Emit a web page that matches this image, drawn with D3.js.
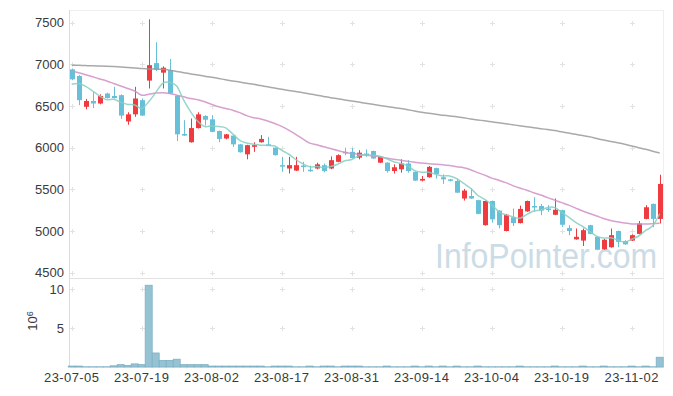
<!DOCTYPE html>
<html>
<head>
<meta charset="utf-8">
<script src="https://cdn.jsdelivr.net/npm/d3@7"></script>
<style>
body { margin: 0; background: #fff; }
text { font-family: "Liberation Sans", Arial, sans-serif; }
</style>
</head>
<body>
<svg id="chart" width="673" height="396"></svg>
<script>
// trading days (yy-mm-dd)
var dates = [
  "23-07-05","23-07-06","23-07-07","23-07-10","23-07-11","23-07-12","23-07-13","23-07-14","23-07-17","23-07-18",
  "23-07-19","23-07-20","23-07-21","23-07-24","23-07-25","23-07-26","23-07-27","23-07-28","23-07-31","23-08-01",
  "23-08-02","23-08-03","23-08-04","23-08-07","23-08-08","23-08-09","23-08-10","23-08-11","23-08-14","23-08-16",
  "23-08-17","23-08-18","23-08-21","23-08-22","23-08-23","23-08-24","23-08-25","23-08-28","23-08-29","23-08-30",
  "23-08-31","23-09-01","23-09-04","23-09-05","23-09-06","23-09-07","23-09-08","23-09-11","23-09-12","23-09-13",
  "23-09-14","23-09-15","23-09-18","23-09-19","23-09-20","23-09-21","23-09-22","23-09-25","23-09-26","23-09-27",
  "23-10-04","23-10-05","23-10-06","23-10-10","23-10-11","23-10-12","23-10-13","23-10-16","23-10-17","23-10-18",
  "23-10-19","23-10-20","23-10-23","23-10-24","23-10-25","23-10-26","23-10-27","23-10-30","23-10-31","23-11-01",
  "23-11-02","23-11-03","23-11-06","23-11-07","23-11-08"
];

var openP = [6940,6860,6490,6560,6530,6650,6620,6630,6315,6400, 6570,6805,7015,6900,6930,6625,6165,6065,6235,6380,
  6340,6200,6110,6145,6040,5920,6010,6065,6040,6000, 5790,5750,5725,5785,5735,5750,5790,5750,5830,5950,
  5950,5880,5930,5960,5820,5820,5720,5740,5810,5710, 5605,5645,5755,5645,5620,5600,5390,5420,5370,5070,
  5360,5245,5000,5165,5095,5235,5300,5300,5270,5195, 5250,5035,4900,4885,5070,4930,4780,4805,5000,4880,
  4885,4965,5145,5325,5145];
var highP = [6950,6870,6585,6670,6640,6660,6730,6640,6425,6730, 6590,7540,7265,6975,7065,6630,6330,6350,6425,6390,
  6390,6205,6165,6150,6045,6035,6065,6150,6130,6005, 5890,5890,5890,5830,5785,5820,5810,5895,5920,6000,
  5995,5970,5980,5965,5900,5825,5800,5860,5850,5715, 5660,5780,5760,5680,5625,5630,5505,5510,5375,5365,
  5365,5250,5205,5270,5305,5365,5405,5325,5310,5390, 5255,5070,5030,5030,5075,4935,4905,5030,5005,4890,
  4960,5120,5310,5330,5675];
var lowP = [6810,6510,6460,6475,6520,6590,6590,6345,6275,6370, 6380,6710,6920,6710,6645,6080,6140,6060,6230,6265,
  6185,6065,6100,6010,5940,5860,5950,6060,6020,5905, 5710,5690,5720,5710,5710,5740,5705,5740,5825,5910,
  5870,5860,5890,5865,5815,5700,5690,5700,5700,5600, 5595,5640,5630,5565,5595,5455,5365,5385,5200,5065,
  5100,5030,4995,5060,5090,5230,5230,5190,5230,5190, 5050,4950,4895,4820,4960,4770,4775,4800,4805,4835,
  4880,4960,5140,5045,5090];
var closeP = [6820,6570,6560,6530,6620,6595,6595,6385,6400,6590, 6385,6990,6935,6960,6650,6160,6145,6235,6400,6335,
  6190,6105,6160,6040,5945,6030,6030,6105,6025,5910, 5775,5790,5790,5770,5725,5800,5720,5850,5910,5935,
  5875,5940,5915,5870,5890,5720,5765,5810,5720,5605, 5625,5770,5685,5620,5605,5460,5485,5390,5205,5360,
  5140,5070,5195,5095,5265,5360,5290,5245,5255,5255, 5075,5000,4930,5010,4965,4775,4895,4950,4870,4840,
  4950,5090,5285,5145,5565];

// volume, millions of shares
var volume = [0.12,0.12,0.03,0.03,0.03,0.03,0.15,0.3,0.2,0.4, 0.3,10.5,1.8,0.85,0.85,1.0,0.3,0.3,0.3,0.3,
  0.12,0.12,0.12,0.12,0.12,0.12,0.12,0.12,0.03,0.12, 0.12,0.12,0.03,0.03,0.12,0.03,0.12,0.12,0.03,0.12,
  0.12,0.12,0.03,0.03,0.03,0.12,0.03,0.03,0.03,0.12, 0.03,0.12,0.03,0.12,0.03,0.12,0.03,0.03,0.12,0.03,
  0.03,0.03,0.03,0.03,0.12,0.03,0.03,0.03,0.03,0.12, 0.03,0.03,0.03,0.12,0.03,0.03,0.12,0.03,0.03,0.03,
  0.12,0.03,0.12,0.03,1.25];

// moving averages
var ma5 = [6760,6770,6735,6680,6620,6575,6580,6545,6519,6513, 6471,6550,6660,6772,6784,6739,6570,6430,6318,6255,
  6261,6253,6238,6166,6088,6056,6041,6030,6027,6020, 5969,5921,5858,5807,5770,5775,5761,5773,5801,5843,
  5858,5902,5915,5907,5898,5867,5832,5811,5781,5724, 5705,5706,5681,5661,5661,5628,5571,5512,5429,5380,
  5316,5233,5194,5172,5153,5197,5241,5251,5283,5281, 5224,5166,5103,5054,4996,4936,4915,4919,4891,4866,
  4901,4940,5007,5062,5207];
var ma20 = [6920,6900,6875,6850,6825,6800,6770,6740,6710,6680, 6630,6640,6655,6660,6650,6630,6610,6590,6575,6550,
  6520,6490,6470,6450,6420,6385,6360,6345,6320,6290, 6255,6210,6160,6105,6055,6035,6010,5990,5965,5945,
  5930,5920,5910,5900,5890,5875,5860,5850,5838,5825, 5815,5808,5802,5795,5785,5772,5760,5735,5700,5670,
  5635,5610,5580,5545,5515,5490,5460,5432,5400,5370, 5340,5310,5275,5240,5210,5180,5150,5125,5110,5095,
  5085,5085,5085,5088,5092];
var ma120 = [6990,6988,6985,6983,6980,6977,6973,6968,6963,6957, 6950,6945,6943,6940,6930,6915,6900,6885,6872,6858,
  6845,6830,6815,6800,6787,6773,6760,6745,6730,6715, 6700,6687,6673,6660,6645,6630,6615,6600,6587,6573,
  6560,6547,6533,6520,6507,6495,6482,6470,6455,6440, 6425,6412,6400,6390,6380,6370,6358,6345,6333,6322,
  6310,6298,6287,6275,6263,6252,6240,6228,6217,6205, 6190,6175,6160,6145,6130,6110,6092,6075,6058,6040,
  6020,6000,5980,5958,5935];

var priceTicks = [4500,5000,5500,6000,6500,7000,7500];
var volTicks = [5,10];
var xTickDates = ["23-07-05","23-07-19","23-08-02","23-08-17","23-08-31","23-09-14","23-10-04","23-10-19","23-11-02"];

var upColor = "#ef3a3f", downColor = "#68c0d8";
var plotLeft = 68.2, plotRight = 663.2;
var priceTop = 10, priceBottom = 278, volTop = 279, volBottom = 367;

var svg = d3.select("#chart");

var x = d3.scaleBand().domain(dates).range([plotLeft, plotRight]).padding(0);
var cx = function (i) { return x(dates[i]) + x.bandwidth() / 2; };
var y = d3.scaleLinear().domain([4436, 7652]).range([priceBottom, priceTop]);
var yv = d3.scaleLinear().domain([0, 11.3]).range([volBottom, volTop]);

// frame
svg.append("rect")
    .attr("x", 69.5).attr("y", priceTop + 0.5)
    .attr("width", 663.5 - 69.5).attr("height", volBottom - priceTop)
    .attr("fill", "none").attr("stroke", "#efefef");
svg.append("line")
    .attr("x1", 69.5).attr("x2", 663.5).attr("y1", volTop - 0.5).attr("y2", volTop - 0.5)
    .attr("stroke", "#e2e2e2");
svg.append("line")
    .attr("x1", 69.5).attr("x2", 69.5).attr("y1", priceTop).attr("y2", volBottom)
    .attr("stroke", "#dcdcdc");

// grid crosses
var crossX = xTickDates.map(function (d) { return x(d) + x.bandwidth() / 2; });
var crossPts = [];
crossX.forEach(function (px) {
    priceTicks.forEach(function (t) { crossPts.push([px, y(t)]); });
    volTicks.forEach(function (t) { crossPts.push([px, yv(t)]); });
});
var crosses = svg.append("g").attr("stroke", "#e2e2e2").attr("stroke-width", 1);
crossPts.forEach(function (p) {
    var px = Math.round(p[0]) + 0.5, py = Math.round(p[1]) + 0.5;
    crosses.append("line").attr("x1", px - 2.5).attr("x2", px + 2.5).attr("y1", py).attr("y2", py);
    crosses.append("line").attr("x1", px).attr("x2", px).attr("y1", py - 2.5).attr("y2", py + 2.5);
});

// watermark
svg.append("text")
    .attr("transform", "translate(435,268) scale(1,1.1)")
    .style("font-size", "32px")
    .attr("fill", "#cbdce6")
    .text("InfoPointer.com");

// y axis labels (price)
svg.append("g").selectAll("text")
    .data(priceTicks).enter().append("text")
    .attr("x", 64).attr("y", function (d) { return y(d); })
    .attr("dy", "0.35em").attr("text-anchor", "end")
    .style("font-size", "13px").attr("fill", "#3a3a3a")
    .text(function (d) { return d; });

// y axis labels (volume)
svg.append("g").selectAll("text")
    .data(volTicks).enter().append("text")
    .attr("x", 64).attr("y", function (d) { return yv(d); })
    .attr("dy", "0.35em").attr("text-anchor", "end")
    .style("font-size", "13px").attr("fill", "#3a3a3a")
    .text(function (d) { return d; });

var unit = svg.append("text")
    .attr("transform", "translate(37,321) rotate(-90)")
    .attr("text-anchor", "middle")
    .style("font-size", "13px").attr("fill", "#3a3a3a");
unit.append("tspan").text("10");
unit.append("tspan").attr("dy", "-0.45em").style("font-size", "9px").text("6");

// x axis
var xAxis = d3.axisBottom(x).tickValues(xTickDates).tickSize(0).tickPadding(6);
var xg = svg.append("g")
    .attr("transform", "translate(0," + volBottom + ")")
    .call(xAxis);
xg.select(".domain").remove();
xg.selectAll("text")
    .style("font-size", "13px").style("font-family", "\"Liberation Sans\", Arial, sans-serif")
    .style("letter-spacing", "0.4px")
    .attr("fill", "#3a3a3a");

// volume bars
svg.append("g").selectAll("rect")
    .data(volume).enter().append("rect")
    .attr("x", function (d, i) { return x(dates[i]); })
    .attr("width", x.bandwidth())
    .attr("y", function (d) { return yv(d); })
    .attr("height", function (d) { return volBottom - yv(d); })
    .attr("fill", "#95c3d4")
    .attr("stroke", "#7eafc3")
    .attr("stroke-width", 0.8);

// candles
var idx = d3.range(dates.length);
var candles = svg.append("g").selectAll("g")
    .data(idx).enter().append("g")
    .attr("fill", function (i) { return closeP[i] >= openP[i] ? upColor : downColor; })
    .attr("stroke", function (i) { return closeP[i] >= openP[i] ? upColor : downColor; });

candles.append("line")
    .attr("x1", function (i) { return Math.round(cx(i)) + 0.5; })
    .attr("x2", function (i) { return Math.round(cx(i)) + 0.5; })
    .attr("y1", function (i) { return y(highP[i]); })
    .attr("y2", function (i) { return y(lowP[i]); })
    .attr("stroke-width", 1);

candles.append("rect")
    .attr("x", function (i) { return Math.round(cx(i)) - 2; })
    .attr("width", 5)
    .attr("y", function (i) { return y(Math.max(openP[i], closeP[i])); })
    .attr("height", function (i) { return Math.max(1.5, Math.abs(y(openP[i]) - y(closeP[i]))); })
    .attr("stroke", "none");

// moving average lines
function maLine(values, color, width) {
    var line = d3.line()
        .x(function (d, i) { return cx(i); })
        .y(function (d) { return y(d); })
        .curve(d3.curveCardinal);
    svg.append("path")
        .datum(values)
        .attr("d", line)
        .attr("fill", "none")
        .attr("stroke", color)
        .attr("stroke-width", width)
        .attr("stroke-opacity", 0.85);
}
maLine(ma120, "#9a9a9a", 1.5);
maLine(ma20, "#d08fc6", 1.5);
maLine(ma5, "#86cfc2", 1.5);
</script>
</body>
</html>
